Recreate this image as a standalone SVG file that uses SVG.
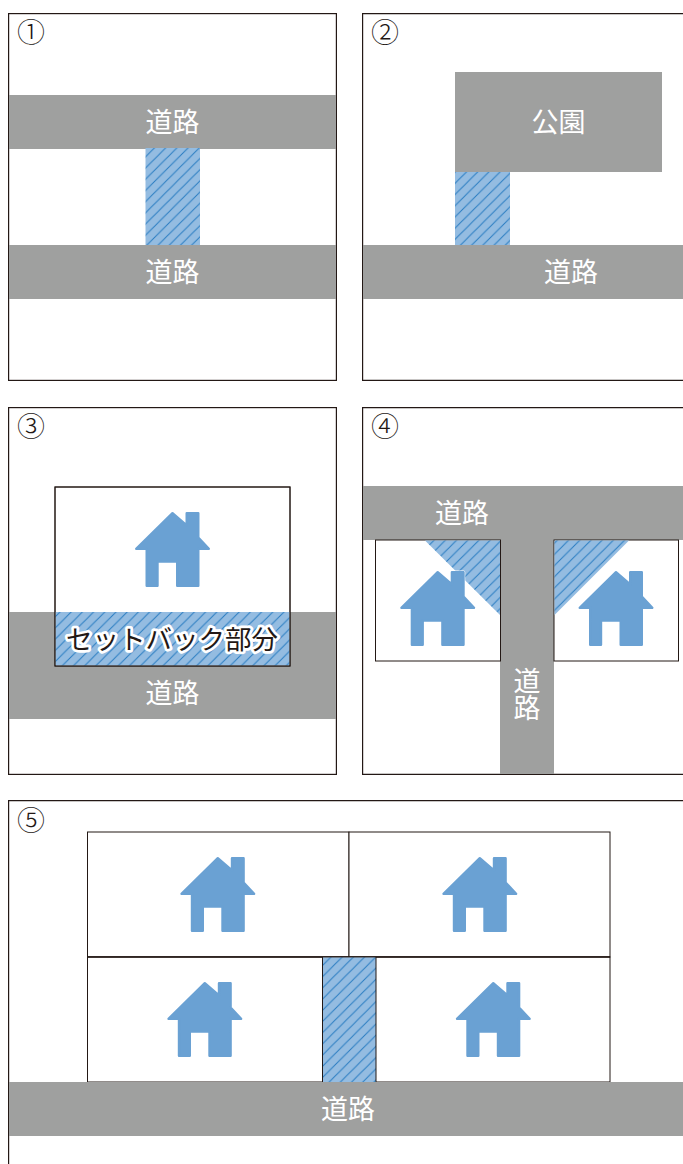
<svg xmlns="http://www.w3.org/2000/svg" width="683" height="1164" viewBox="0 0 683 1164">
<style>
.f{fill:#fff;stroke:#231815;stroke-width:1.2}
.l{fill:#fff;stroke:#231815;stroke-width:1}
.r{fill:#9fa09f}
.h{fill:url(#hatch)}
.t{font-family:"Noto Sans CJK JP","Noto Sans",sans-serif;font-size:27px;fill:#fff;text-anchor:middle}
.n{font-family:"Noto Sans CJK JP","Noto Sans",sans-serif;font-size:28px;font-weight:300;fill:#231815;text-anchor:middle}
.s{font-family:"Noto Sans CJK JP","Noto Sans",sans-serif;font-size:26.500px;fill:#231815;text-anchor:middle;stroke:#fff;stroke-width:5.500px;paint-order:stroke;stroke-linejoin:round}
.hs{fill:#6aa1d3;stroke:#6aa1d3;stroke-width:2.400;stroke-linejoin:round}
</style>
<defs>
<pattern id="hatch" patternUnits="userSpaceOnUse" width="11.200" height="11.200">
<rect width="11.200" height="11.200" fill="#94bce1"/>
<path d="M-2.800 2.800L2.800-2.800M-2.800 14L14-2.800M8.400 14L14 8.400" stroke="#2a7cc2" stroke-width="1" fill="none"/>
</pattern>
<path id="house" d="M0 1.200L14.200 13.500V1.200H25.800V25.500L36.300 36.800H25.800V73.800H4.700V49.500H-15V73.800H-25.800V36.800H-36.300Z"/>
</defs>
<rect width="683" height="1164" fill="#fff"/>
<g id="panel1">
<rect class="f" x="8.600" y="13.600" width="327.800" height="366.800"/>
<rect class="r" x="9" y="95" width="327" height="54"/>
<rect class="r" x="9" y="245" width="327" height="54"/>
<rect class="h" x="145.500" y="148" width="54.500" height="97"/>
<text class="n" x="31" y="42.500">①</text>
<text class="t" x="172.500" y="131.500">道路</text>
<text class="t" x="172.500" y="281.500">道路</text>
</g>
<g id="panel2">
<path class="f" d="M684 13.600H362.600V380.400H684" fill="none"/>
<rect class="r" x="455" y="72" width="207" height="100"/>
<rect class="r" x="363" y="245" width="320" height="54"/>
<rect class="h" x="455" y="172" width="55" height="73"/>
<text class="n" x="385" y="42.500">②</text>
<text class="t" x="558.500" y="131.500">公園</text>
<text class="t" x="571" y="281.500">道路</text>
</g>
<g id="panel3">
<rect class="f" x="8.600" y="407.600" width="327.800" height="366.800"/>
<rect class="r" x="9" y="612" width="327" height="107"/>
<rect class="l" x="55" y="487" width="235" height="179"/>
<rect class="h" x="55.500" y="612" width="234" height="53.500"/>
<rect x="55" y="487" width="235" height="179" fill="none" stroke="#231815" stroke-width="1"/>
<use href="#house" class="hs" x="172.500" y="512"/>
<text class="n" x="31" y="436.500">③</text>
<text class="s" x="172" y="649">セットバック部分</text>
<text class="t" x="172.500" y="702.500">道路</text>
</g>
<g id="panel4">
<path class="f" d="M684 407.600H362.600V774.400H684" fill="none"/>
<rect class="r" x="363" y="486" width="320" height="54"/>
<rect class="r" x="500" y="540" width="54" height="234"/>
<rect class="l" x="375.500" y="540" width="125" height="121"/>
<rect class="l" x="554" y="540" width="124.500" height="121"/>
<path class="h" d="M425 540.500H500V615Z"/>
<path class="h" d="M554.500 540.500H629L554.500 615Z"/>
<use href="#house" x="437.700" y="571" fill="none" stroke="#fff" stroke-width="3.500" stroke-linejoin="round"/>
<use href="#house" class="hs" x="437.700" y="571"/>
<use href="#house" class="hs" x="616" y="571"/>
<text class="n" x="385" y="436.500">④</text>
<text class="t" x="462" y="522.500">道路</text>
<text class="t" x="527" y="694" style="writing-mode:vertical-rl">道路</text>
</g>
<g id="panel5">
<path class="f" d="M684 800.600H8.600V1165" fill="none"/>
<rect class="l" x="87.500" y="832" width="261.500" height="125"/>
<rect class="l" x="349" y="832" width="261" height="125"/>
<rect class="l" x="87.500" y="957" width="522.500" height="125"/>
<path d="M87.500 957H610" stroke="#231815" stroke-width="1.400" fill="none"/>
<rect class="h" x="322.500" y="957.500" width="53.500" height="125"/>
<path d="M322.500 957V1082M376 957V1082" stroke="#231815" stroke-width="1" fill="none"/>
<rect class="r" x="9" y="1082" width="674" height="54"/>
<use href="#house" class="hs" x="217.800" y="857"/>
<use href="#house" class="hs" x="479.800" y="857"/>
<use href="#house" class="hs" x="204.800" y="982"/>
<use href="#house" class="hs" x="493.300" y="982"/>
<text class="n" x="31" y="830.500">⑤</text>
<text class="t" x="348" y="1118.500">道路</text>
</g>
</svg>
